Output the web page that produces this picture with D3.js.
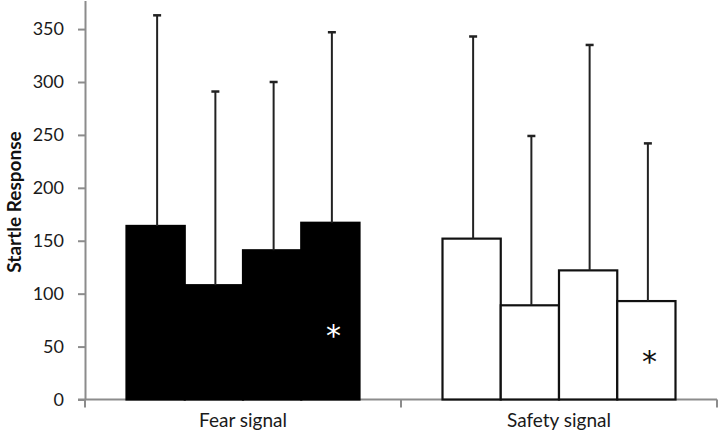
<!DOCTYPE html>
<html><head><meta charset="utf-8">
<script src="https://cdn.jsdelivr.net/npm/d3@7"></script>
<style>body{margin:0;background:#fff;} svg{display:block;font-family:Lato,"Open Sans",sans-serif;}</style>
</head><body>
<svg id="c" width="720" height="436"></svg>
<script>
const groups = ["Fear signal", "Safety signal"];
const conditions = ["c1", "c2", "c3", "c4"];
const fearMeans = [164, 108, 141, 167];
const fearSD = [199, 183, 159, 180];
const safetyMeans = [152, 89, 122, 93];
const safetySD = [191, 160, 213, 149];
const yTicks = [0, 50, 100, 150, 200, 250, 300, 350];
const yLabel = "Startle Response";
const marks = [{group: "Fear signal", cond: "c4", value: 64, color: "#fff"},
               {group: "Safety signal", cond: "c4", value: 39, color: "#111"}];

const data = [];
groups.forEach((g, gi) => {
  const m = gi === 0 ? fearMeans : safetyMeans;
  const s = gi === 0 ? fearSD : safetySD;
  conditions.forEach((c, i) => data.push({group: g, cond: c, mean: m[i], sd: s[i],
    fill: gi === 0 ? "#000" : "#fff", stroke: gi === 0 ? "#000" : "#111"}));
});

const svg = d3.select("#c");
const axisColor = "#8c8c8c";
const x0 = d3.scaleBand().domain(groups).range([85, 717]);
const bw = x0.bandwidth();
const x1 = d3.scaleBand().domain(conditions).range([41.5, bw - 41.5]);
const y = d3.scaleLinear().domain([0, 377]).range([399.5, 0.5]);

// y axis
const ya = svg.append("g").attr("transform", "translate(85,0)")
  .call(d3.axisLeft(y).tickValues(yTicks).tickSize(7).tickPadding(14).tickSizeOuter(0));
ya.select(".domain").attr("stroke", axisColor).attr("stroke-width", 2);
ya.selectAll(".tick line").attr("stroke", axisColor).attr("stroke-width", 2);
ya.selectAll(".tick text").attr("font-size", 18).attr("fill", "#1a1a1a").attr("font-family", "Lato");

// x axis
const xa = svg.append("g").attr("transform", `translate(0,${y(0)})`)
  .call(d3.axisBottom(x0).tickSize(0).tickPadding(14));
xa.select(".domain").attr("stroke", axisColor).attr("stroke-width", 2).attr("d", `M78,0H717`);
xa.selectAll(".tick text").attr("font-size", 19).attr("fill", "#1a1a1a").attr("font-family", "Lato");
const xTickPos = [85].concat(groups.map(g => x0(g) + bw));
xa.selectAll(".sep").data(xTickPos).enter().append("line")
  .attr("x1", d => d).attr("x2", d => d).attr("y1", 0).attr("y2", 8)
  .attr("stroke", axisColor).attr("stroke-width", 2);

// bars
const bars = svg.append("g");
bars.selectAll("rect").data(data).enter().append("rect")
  .attr("x", d => x0(d.group) + x1(d.cond))
  .attr("y", d => y(d.mean))
  .attr("width", x1.bandwidth())
  .attr("height", d => y(0) - y(d.mean))
  .attr("fill", d => d.fill)
  .attr("stroke", d => d.stroke).attr("stroke-width", 2.2);

// error bars
const eb = svg.append("g").attr("stroke", "#222").attr("stroke-width", 2);
data.forEach(d => {
  const cx = x0(d.group) + x1(d.cond) + x1.bandwidth() / 2 + 1.5;
  eb.append("line").attr("x1", cx).attr("x2", cx).attr("y1", y(d.mean)).attr("y2", y(d.mean + d.sd));
  eb.append("line").attr("x1", cx - 4).attr("x2", cx + 4).attr("y1", y(d.mean + d.sd)).attr("y2", y(d.mean + d.sd)).attr("stroke-width", 2.5);
});

// asterisks
svg.append("g").selectAll("text").data(marks).enter().append("text")
  .attr("x", d => x0(d.group) + x1(d.cond) + x1.bandwidth() / 2 + 3)
  .attr("y", d => y(d.value) + 14)
  .attr("text-anchor", "middle")
  .attr("font-size", 30).attr("font-family", "DejaVu Sans")
  .attr("fill", d => d.color).text("*");

// y label
svg.append("text").attr("transform", `translate(21,202) rotate(-90)`)
  .attr("text-anchor", "middle").attr("font-size", 19).attr("font-weight", "bold")
  .attr("font-family", "Lato").attr("fill", "#111").text(yLabel);
</script>
</body></html>
